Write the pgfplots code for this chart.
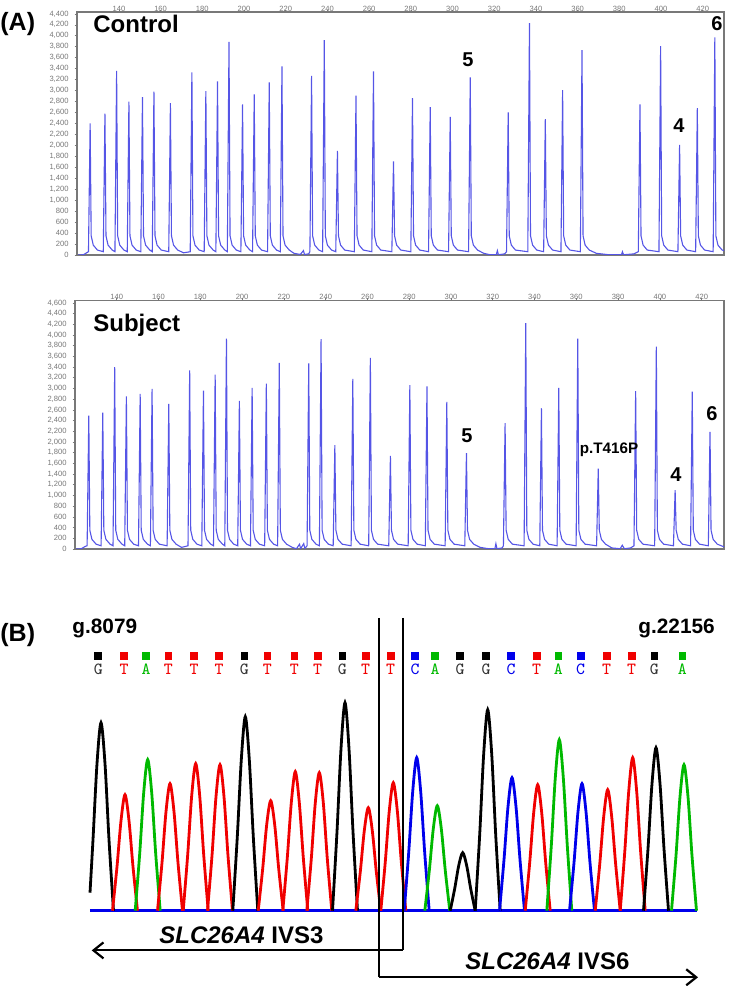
\documentclass[border=0pt]{standalone}
\usepackage{fontspec}
\setmainfont{Liberation Sans}
\usepackage{pgfplots}
\pgfplotsset{compat=1.18}
\usetikzlibrary{arrows.meta}
\definecolor{trace}{RGB}{85,85,230}
\definecolor{cT}{RGB}{240,0,0}
\definecolor{cA}{RGB}{0,185,0}
\definecolor{cC}{RGB}{0,0,235}
\definecolor{axgray}{RGB}{120,120,120}
\pgfplotsset{
  epg/.style={scale only axis, ymin=0,
    xtick={140,160,...,420}, ytick distance=200,
    xtick pos=right, xticklabel pos=right, ytick pos=left,
    tick align=outside, major tick length=1.2pt,
    tick style={axgray, line width=0.3pt},
    ticklabel style={font=\fontsize{3.8}{4}\selectfont, text=axgray},
    /pgf/number format/assume math mode=true,
    /pgf/number format/1000 sep={,},
    scaled ticks=false,
    axis line style={axgray, line width=0.6pt},
    xticklabel style={yshift=-1.5pt, inner sep=0.5pt}, yticklabel style={xshift=0.5pt},
  },
  chrom/.style={line width=1.4pt, smooth, tension=0.5},
}
\begin{document}
\begin{tikzpicture}
\useasboundingbox (0,0) rectangle (365pt,493pt);
% ---------------- Control ----------------
\begin{axis}[epg, at={(38.5pt,365.5pt)}, anchor=south west, width=323.5pt, height=121.5pt,
  xmin=119.9, xmax=430.2, ymax=4434]
\addplot[trace, line width=0.55pt] coordinates {
(120.5,0)(123,5)(124.5,40)
(125.4,60)(126.2,2400)(126.7,350)(127.7,180)(129.7,90)
(132.5,60)(133.3,2580)(133.8,350)(134.8,180)(136.8,90)
(138.1,60)(138.9,3360)(139.4,350)(140.4,180)(142.4,90)
(144,60)(144.8,2800)(145.3,350)(146.3,180)(148.3,90)
(150.5,60)(151.3,2880)(151.8,350)(152.8,180)(154.8,90)
(156,60)(156.8,2980)(157.3,350)(158.3,180)(160.3,90)
(163.9,60)(164.7,2770)(165.2,350)(166.2,180)(168.2,90)
(171,40)
(174.2,60)(175,3330)(175.5,350)(176.5,180)(178.5,90)
(180.9,60)(181.7,2990)(182.2,350)(183.2,180)(185.2,90)
(186.5,60)(187.3,3170)(187.8,350)(188.8,180)(190.8,90)
(192,60)(192.8,3890)(193.3,350)(194.3,180)(196.3,90)
(198.5,60)(199.3,2750)(199.8,350)(200.8,180)(202.8,90)
(204.1,60)(204.9,2930)(205.4,350)(206.4,180)(208.4,90)
(211.3,60)(212.1,3150)(212.6,350)(213.6,180)(215.6,90)
(217.4,60)(218.2,3440)(218.7,350)(219.7,180)(221.7,90)
(224,30)(227,10)(228.5,80)(229,10)(231,20)
(231.6,60)(232.4,3270)(232.9,350)(233.9,180)(235.9,90)
(237.7,60)(238.5,3920)(239,350)(240,180)(242,90)
(244,60)(244.8,1900)(245.3,350)(246.3,180)(248.3,90)
(252.9,60)(253.7,2910)(254.2,350)(255.2,180)(257.2,90)
(261.3,60)(262.1,3350)(262.6,350)(263.6,180)(265.6,90)
(270.9,60)(271.7,1710)(272.2,350)(273.2,180)(275.2,90)
(280,60)(280.8,2860)(281.3,350)(282.3,180)(284.3,90)
(288.5,60)(289.3,2700)(289.8,350)(290.8,180)(292.8,90)
(298.1,60)(298.9,2520)(299.4,350)(300.4,180)(302.4,90)
(307.7,60)(308.5,3240)(309,350)(310,180)(312,90)
(315,30)(318,5)(321,5)(321.5,80)(322,5)(325,20)
(325.9,60)(326.7,2600)(327.2,350)(328.2,180)(330.2,90)
(336.1,60)(336.9,4230)(337.4,350)(338.4,180)(340.4,90)
(343.7,60)(344.5,2480)(345,350)(346,180)(348,90)
(352,60)(352.8,3010)(353.3,350)(354.3,180)(356.3,90)
(361.3,60)(362.1,3740)(362.6,350)(363.6,180)(365.6,90)
(369,30)(375,5)(381,5)(381.5,60)(382,5)(387,20)
(389.1,60)(389.9,2750)(390.4,350)(391.4,180)(393.4,90)
(399,60)(399.8,3810)(400.3,350)(401.3,180)(403.3,90)
(408.1,60)(408.9,2010)(409.4,350)(410.4,180)(412.4,90)
(416.6,60)(417.4,2680)(417.9,350)(418.9,180)(420.9,90)
(425,60)(425.8,3970)(426.3,350)(427.3,180)(429.3,90)
(430.2,80)
};
\end{axis}
% ---------------- Subject ----------------
\begin{axis}[epg, at={(37.5pt,218.5pt)}, anchor=south west, width=324.5pt, height=124.15pt,
  xmin=120, xmax=430.7, ymax=4640]
\addplot[trace, line width=0.55pt] coordinates {
(120.5,0)(123,5)(125,50)
(125.8,60)(126.6,2490)(127.1,350)(128.1,180)(130.1,90)
(132.5,60)(133.3,2550)(133.8,350)(134.8,180)(136.8,90)
(138.2,60)(139,3400)(139.5,350)(140.5,180)(142.5,90)
(143.8,60)(144.6,2850)(145.1,350)(146.1,180)(148.1,90)
(150.4,60)(151.2,2900)(151.7,350)(152.7,180)(154.7,90)
(156.1,60)(156.9,2990)(157.4,350)(158.4,180)(160.4,90)
(164.1,60)(164.9,2710)(165.4,350)(166.4,180)(168.4,90)
(171,30)
(174.1,60)(174.9,3340)(175.4,350)(176.4,180)(178.4,90)
(180.7,60)(181.5,2960)(182,350)(183,180)(185,90)
(186.3,60)(187.1,3260)(187.6,350)(188.6,180)(190.6,90)
(191.7,60)(192.5,3930)(193,350)(194,180)(196,90)
(197.9,60)(198.7,2770)(199.2,350)(200.2,180)(202.2,90)
(204,60)(204.8,3010)(205.3,350)(206.3,180)(208.3,90)
(210.8,60)(211.6,3090)(212.1,350)(213.1,180)(215.1,90)
(217,60)(217.8,3480)(218.3,350)(219.3,180)(221.3,90)
(224,30)(226,5)(227.5,90)(228,5)(229.5,100)(230,10)
(231.1,60)(231.9,3470)(232.4,350)(233.4,180)(235.4,90)
(237,60)(237.8,3920)(238.3,350)(239.3,180)(241.3,90)
(243.6,60)(244.4,1940)(244.9,350)(245.9,180)(247.9,90)
(252.2,60)(253,3180)(253.5,350)(254.5,180)(256.5,90)
(260.6,60)(261.4,3570)(261.9,350)(262.9,180)(264.9,90)
(270.2,60)(271,1740)(271.5,350)(272.5,180)(274.5,90)
(279.5,60)(280.3,3060)(280.8,350)(281.8,180)(283.8,90)
(287.7,60)(288.5,3040)(289,350)(290,180)(292,90)
(297.2,60)(298,2750)(298.5,350)(299.5,180)(301.5,90)
(306.6,60)(307.4,1790)(307.9,350)(308.9,180)(310.9,90)
(314,30)(318,5)(321,5)(321.5,100)(322,5)(324.5,20)
(325.1,60)(325.9,2350)(326.4,350)(327.4,180)(329.4,90)
(335,60)(335.8,4220)(336.3,350)(337.3,180)(339.3,90)
(342.5,60)(343.3,2630)(343.8,350)(344.8,180)(346.8,90)
(350.8,60)(351.6,3010)(352.1,350)(353.1,180)(355.1,90)
(359.9,60)(360.7,3930)(361.2,350)(362.2,180)(364.2,90)
(369.7,60)(370.5,1500)(371,350)(372,180)(374,90)
(377,20)(381,5)(382,70)(383,5)(386,20)
(387.6,60)(388.4,2950)(388.9,350)(389.9,180)(391.9,90)
(397.5,60)(398.3,3780)(398.8,350)(399.8,180)(401.8,90)
(406.5,60)(407.3,1100)(407.8,350)(408.8,180)(410.8,90)
(414.7,60)(415.5,2940)(416,350)(417,180)(419,90)
(423.2,60)(424,2190)(424.5,350)(425.5,180)(427.5,90)
(430.7,40)
};
\end{axis}
% ---------------- Chromatogram ----------------
\begin{axis}[at={(45pt,0.15pt)}, anchor=south west, scale only axis, width=303.5pt, height=192.85pt,
  xmin=90, xmax=697, ymin=-75, ymax=310.7, axis lines=none, clip=false]
\addplot[cC, line width=1.2pt] coordinates {(90,0)(697,0)};
\addplot[black, chrom] coordinates {(90,18)(93,71)(97,147)(101,188)(105,147)(109,71)(113.5,0)};
\addplot[cT, chrom] coordinates {(112.5,0)(117,44)(121,90)(125,116)(129,90)(133,44)(137.5,0)};
\addplot[cA, chrom] coordinates {(135.2,0)(139.7,57)(143.7,118)(147.7,151)(151.7,118)(155.7,57)(160.2,0)};
\addplot[cT, chrom] coordinates {(157.5,0)(162,48)(166,99)(170,127)(174,99)(178,48)(182.5,0)};
\addplot[cT, chrom] coordinates {(183.2,0)(187.7,56)(191.7,115)(195.7,147)(199.7,115)(203.7,56)(208.2,0)};
\addplot[cT, chrom] coordinates {(207.5,0)(212,55)(216,114)(220,146)(224,114)(228,55)(232.5,0)};
\addplot[black, chrom] coordinates {(232.8,0)(237.3,74)(241.3,151)(245.3,194)(249.3,151)(253.3,74)(257.8,0)};
\addplot[cT, chrom] coordinates {(258.2,0)(262.7,42)(266.7,86)(270.7,110)(274.7,86)(278.7,42)(283.2,0)};
\addplot[cT, chrom] coordinates {(282.8,0)(287.3,53)(291.3,108)(295.3,139)(299.3,108)(303.3,53)(307.8,0)};
\addplot[cT, chrom] coordinates {(306.8,0)(311.3,52)(315.3,108)(319.3,138)(323.3,108)(327.3,52)(331.8,0)};
\addplot[black, chrom] coordinates {(332.5,0)(337,79)(341,162)(345,208)(349,162)(353,79)(357.5,0)};
\addplot[cT, chrom] coordinates {(355.8,0)(360.3,39)(364.3,80)(368.3,103)(372.3,80)(376.3,39)(380.8,0)};
\addplot[cT, chrom] coordinates {(380.8,0)(385.3,49)(389.3,100)(393.3,128)(397.3,100)(401.3,49)(405.8,0)};
\addplot[cC, chrom] coordinates {(404.2,0)(408.7,58)(412.7,119)(416.7,153)(420.7,119)(424.7,58)(429.2,0)};
\addplot[cA, chrom] coordinates {(424.8,0)(429.3,40)(433.3,82)(437.3,105)(441.3,82)(445.3,40)(449.8,0)};
\addplot[black, chrom] coordinates {(450.2,0)(454.7,22)(458.7,45)(462.7,58)(466.7,45)(470.7,22)(475.2,0)};
\addplot[black, chrom] coordinates {(475.2,0)(479.7,76)(483.7,157)(487.7,201)(491.7,157)(495.7,76)(500.2,0)};
\addplot[cC, chrom] coordinates {(499.5,0)(504,51)(508,104)(512,133)(516,104)(520,51)(524.5,0)};
\addplot[cT, chrom] coordinates {(525.2,0)(529.7,48)(533.7,98)(537.7,126)(541.7,98)(545.7,48)(550.2,0)};
\addplot[cA, chrom] coordinates {(546.8,0)(551.3,65)(555.3,133)(559.3,171)(563.3,133)(567.3,65)(571.8,0)};
\addplot[cC, chrom] coordinates {(569.5,0)(574,48)(578,99)(582,127)(586,99)(590,48)(594.5,0)};
\addplot[cT, chrom] coordinates {(595.2,0)(599.7,46)(603.7,94)(607.7,121)(611.7,94)(615.7,46)(620.2,0)};
\addplot[cT, chrom] coordinates {(620.2,0)(624.7,58)(628.7,119)(632.7,153)(636.7,119)(640.7,58)(645.2,0)};
\addplot[black, chrom] coordinates {(643.5,0)(648,62)(652,127)(656,163)(660,127)(664,62)(668.5,0)};
\addplot[cA, chrom] coordinates {(671.5,0)(676,55)(680,114)(684,146)(688,114)(692,55)(696.5,0)};
% base-call squares
\addplot[only marks, mark=square*, mark size=1.7pt, black] coordinates {(98.3,254.7)(244.3,254.7)(342.3,254.7)(460,254.7)(486,254.7)(654.3,254.7)};
\addplot[only marks, mark=square*, mark size=1.7pt, cT] coordinates {(124,254.7)(168.3,254.7)(194,254.7)(219,254.7)(267.3,254.7)(294.3,254.7)(317.7,254.7)(365.7,254.7)(390.7,254.7)(536.7,254.7)(606.7,254.7)(631.7,254.7)};
\addplot[only marks, mark=square*, mark size=1.7pt, cA] coordinates {(146,254.7)(435,254.7)(558.3,254.7)(682.3,254.7)};
\addplot[only marks, mark=square*, mark size=1.7pt, cC] coordinates {(415,254.7)(511,254.7)(580.7,254.7)};
% base-call letters
\addplot[draw=none, mark=none, nodes near coords=G, nodes near coords align=center,
  every node near coord/.append style={font=\ttfamily\fontsize{8.5}{9}\selectfont, text=black!80, inner sep=0pt}]
  coordinates {(98.3,241.7)(244.3,241.7)(342.3,241.7)(460,241.7)(486,241.7)(654.3,241.7)};
\addplot[draw=none, mark=none, nodes near coords=T, nodes near coords align=center,
  every node near coord/.append style={font=\ttfamily\fontsize{8.5}{9}\selectfont, text=cT, inner sep=0pt}]
  coordinates {(124,241.7)(168.3,241.7)(194,241.7)(219,241.7)(267.3,241.7)(294.3,241.7)(317.7,241.7)(365.7,241.7)(390.7,241.7)(536.7,241.7)(606.7,241.7)(631.7,241.7)};
\addplot[draw=none, mark=none, nodes near coords=A, nodes near coords align=center,
  every node near coord/.append style={font=\ttfamily\fontsize{8.5}{9}\selectfont, text=cA, inner sep=0pt}]
  coordinates {(146,241.7)(435,241.7)(558.3,241.7)(682.3,241.7)};
\addplot[draw=none, mark=none, nodes near coords=C, nodes near coords align=center,
  every node near coord/.append style={font=\ttfamily\fontsize{8.5}{9}\selectfont, text=cC, inner sep=0pt}]
  coordinates {(415,241.7)(511,241.7)(580.7,241.7)};
% boundary lines and arrows
\draw[line width=1.1pt] (axis cs:379,292.7) -- (axis cs:379,-66.6);
\draw[line width=1.1pt] (axis cs:402.7,292.7) -- (axis cs:402.7,-39.7);
\draw[line width=1.1pt, -{Straight Barb[length=5pt,width=8pt,line width=1.1pt]}] (axis cs:402.7,-39.7) -- (axis cs:91.7,-39.7);
\draw[line width=1.1pt, -{Straight Barb[length=5pt,width=8pt,line width=1.1pt]}] (axis cs:379,-66.6) -- (axis cs:698,-66.6);
\end{axis}
% ---------------- Text ----------------
\begin{scope}[shift={(0pt,493pt)}, x=0.5pt, y=-0.5pt, every node/.style={inner sep=0pt, font=\bfseries}]
\node[anchor=base west, font=\bfseries\fontsize{12.5}{14}\selectfont] at (0,30.7) {(A)};
\node[anchor=base west, font=\bfseries\fontsize{12}{14}\selectfont] at (93,33) {Control};
\node[font=\bfseries\fontsize{10}{12}\selectfont] at (468,60) {5};
\node[font=\bfseries\fontsize{10}{12}\selectfont] at (717,24) {6};
\node[font=\bfseries\fontsize{10}{12}\selectfont] at (679,126) {4};
\node[anchor=base west, font=\bfseries\fontsize{12}{14}\selectfont] at (93,331.5) {Subject};
\node[font=\bfseries\fontsize{10}{12}\selectfont] at (467,436) {5};
\node[font=\bfseries\fontsize{7.6}{9}\selectfont] at (609,450) {p.T416P};
\node[font=\bfseries\fontsize{10}{12}\selectfont] at (676,475) {4};
\node[font=\bfseries\fontsize{10}{12}\selectfont] at (712,414) {6};
\node[anchor=base west, font=\bfseries\fontsize{12.5}{14}\selectfont] at (0,641.5) {(B)};
\node[anchor=base west, font=\bfseries\fontsize{10.4}{12}\selectfont] at (72,634) {g.8079};
\node[anchor=base west, font=\bfseries\fontsize{10.4}{12}\selectfont] at (638,634) {g.22156};
\node[anchor=base west, font=\bfseries\fontsize{12}{14}\selectfont] at (159,944) {\itshape SLC26A4\upshape{} IVS3};
\node[anchor=base west, font=\bfseries\fontsize{12}{14}\selectfont] at (465,969.3) {\itshape SLC26A4\upshape{} IVS6};
\end{scope}
\end{tikzpicture}
\end{document}
